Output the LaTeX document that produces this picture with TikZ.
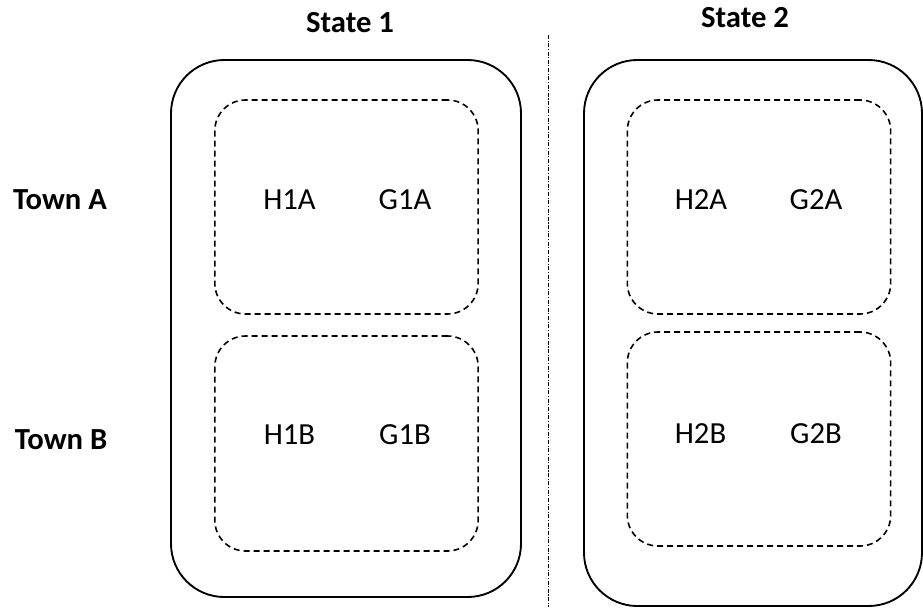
\documentclass[tikz,border=0pt]{standalone}
\usepackage{fontspec}
\setmainfont{Carlito}
\usetikzlibrary{positioning}

\tikzset{
  statebox/.style={draw, line width=1.4pt, rounded corners=40pt, inner sep=0pt, outer sep=0pt},
  townbox/.style={draw, line width=1.2pt, rounded corners=23pt, inner sep=0pt, outer sep=0pt,
    dash pattern=on 4.5pt off 3pt, minimum width=197.5pt, minimum height=160.5pt},
  lbl/.style={font=\fontsize{23}{28}\selectfont, anchor=base, inner sep=0pt},
  head/.style={lbl, font=\fontsize{23}{28}\selectfont\bfseries}
}

\begin{document}
\begin{tikzpicture}[x=0.75pt, y=-0.75pt]
  \useasboundingbox (0,0) rectangle (923,607);
  \node [statebox, minimum width=262.5pt, minimum height=402.75pt] (s_1) at (346,328.5) {};
  \node [statebox, minimum width=253.5pt, minimum height=409.5pt] (s_2) at (753,333) {};
  \node [townbox] (s_1a) at (346.5,207) {};
  \node [townbox, minimum height=161.25pt] (s_1b) at (346.5,443.5) {};
  \node [townbox] (s_2a) at (759,207) {};
  \node [townbox] (s_2b) at (759,439) {};
  \coordinate (sep_top) at (548,35);
  \coordinate (sep_bot) at (548,607);
  \draw [line width=0.6pt, dash pattern=on 3pt off 1.2pt on 0.8pt off 1.2pt] (sep_top) -- (sep_bot);
  \node [head] (t_1) at (350,32) {State 1};
  \node [head] (t_2) at (745,27) {State 2};
  \node [head] (town_a) at (60,209) {Town A};
  \node [head] (town_b) at (61,449) {Town B};
  \node [lbl] (h1a) at (289.5,209) {H1A};
  \node [lbl] (g1a) at (405,209) {G1A};
  \node [lbl] (h2a) at (701,209) {H2A};
  \node [lbl] (g2a) at (816,209) {G2A};
  \node [lbl] (h1b) at (289.5,444) {H1B};
  \node [lbl] (g1b) at (405,444) {G1B};
  \node [lbl] (h2b) at (700.5,443) {H2B};
  \node [lbl] (g2b) at (816,443) {G2B};
\end{tikzpicture}
\end{document}
